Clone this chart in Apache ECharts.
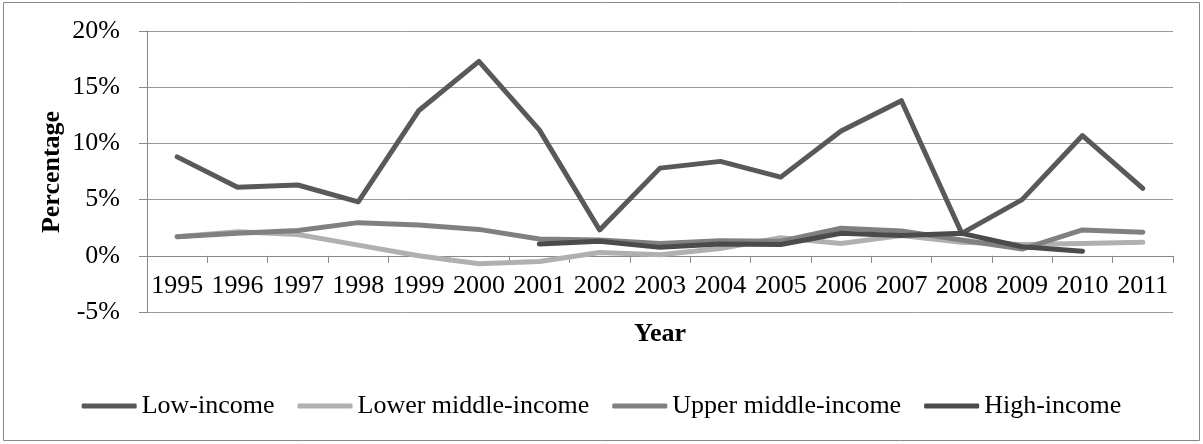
<!DOCTYPE html>
<html>
<head>
<meta charset="utf-8">
<script src="https://cdn.jsdelivr.net/npm/echarts@6/dist/echarts.min.js"></script>
<style>
html,body{margin:0;padding:0;background:#fff;}
#chart{width:1203px;height:444px;}
</style>
</head>
<body>
<div id="chart"></div>
<script>
const years = ['1995','1996','1997','1998','1999','2000','2001','2002','2003','2004','2005','2006','2007','2008','2009','2010','2011'];
const yTicks = { min: -5, max: 20, step: 5 };
const lowIncome = [8.8, 6.1, 6.3, 4.8, 12.9, 17.3, 11.2, 2.3, 7.8, 8.4, 7.0, 11.1, 13.8, 2.0, 5.0, 10.7, 6.0];
const lowerMiddle = [1.7, 2.15, 1.9, 0.95, 0.0, -0.7, -0.5, 0.3, 0.1, 0.65, 1.6, 1.1, 1.8, 1.2, 1.0, 1.1, 1.2];
const upperMiddle = [1.7, 2.0, 2.25, 2.95, 2.75, 2.35, 1.5, 1.4, 1.1, 1.35, 1.3, 2.45, 2.2, 1.4, 0.6, 2.3, 2.1];
const highIncome = [null, null, null, null, null, null, 1.05, 1.3, 0.75, 1.05, 1.0, 2.0, 1.8, 2.0, 0.8, 0.4, null];
const seriesNames = ['Low-income', 'Lower middle-income', 'Upper middle-income', 'High-income'];
const seriesColors = ['#595959', '#b0b0b0', '#808080', '#4b4b4b'];
const seriesData = [lowIncome, lowerMiddle, upperMiddle, highIncome];

const FONT = '"Liberation Serif", "Times New Roman", serif';
const GRID = { left: 147, right: 30, top: 31, bottom: 132 };
const plotH = 444 - GRID.top - GRID.bottom;
// distance from bottom of the plot (-5%) up to the 0% line, in pixels
const zeroOffset = plotH * (0 - yTicks.min) / (yTicks.max - yTicks.min);

const chart = echarts.init(document.getElementById('chart'));
chart.setOption({
  animation: false,
  backgroundColor: '#fff',
  textStyle: { fontFamily: FONT, color: '#000' },
  grid: GRID,
  graphic: [
    { type: 'rect', shape: { x: 3.5, y: 2.5, width: 1196, height: 438 }, style: { fill: null, stroke: '#888', lineWidth: 1 }, silent: true },
    { type: 'text', x: 660, y: 334, style: { text: 'Year', font: 'bold 26px ' + FONT, fill: '#000', textAlign: 'center', textVerticalAlign: 'middle' } },
    { type: 'text', x: 52, y: 172, rotation: Math.PI / 2, style: { text: 'Percentage', font: 'bold 26px ' + FONT, fill: '#000', textAlign: 'center', textVerticalAlign: 'middle' } }
  ],
  legend: {
    left: 'center',
    top: 388,
    icon: 'roundRect',
    itemWidth: 55,
    itemHeight: 5,
    itemGap: 23,
    textStyle: { fontFamily: FONT, fontSize: 26, color: '#000' },
    data: seriesNames
  },
  xAxis: {
    type: 'category',
    data: years,
    boundaryGap: true,
    offset: -zeroOffset,
    axisLine: { onZero: false, lineStyle: { color: '#888', width: 1 } },
    axisTick: { show: true, length: 7, interval: 0, lineStyle: { color: '#888' } },
    axisLabel: { interval: 0, fontFamily: FONT, fontSize: 26, color: '#000', margin: 17 },
    splitLine: { show: false }
  },
  yAxis: {
    type: 'value',
    min: yTicks.min,
    max: yTicks.max,
    interval: yTicks.step,
    axisLine: { show: true, lineStyle: { color: '#888', width: 1 } },
    axisTick: { show: true, length: 8, lineStyle: { color: '#888' } },
    axisLabel: { formatter: '{value}%', fontFamily: FONT, fontSize: 26, color: '#000', margin: 27 },
    splitLine: { show: true, lineStyle: { color: '#999', width: 1 } }
  },
  series: seriesNames.map((name, i) => ({
    name: name,
    type: 'line',
    data: seriesData[i],
    symbol: 'none',
    showSymbol: false,
    connectNulls: false,
    color: seriesColors[i],
    lineStyle: { color: seriesColors[i], width: 5, cap: 'round', join: 'round' }
  }))
});
</script>
</body>
</html>
